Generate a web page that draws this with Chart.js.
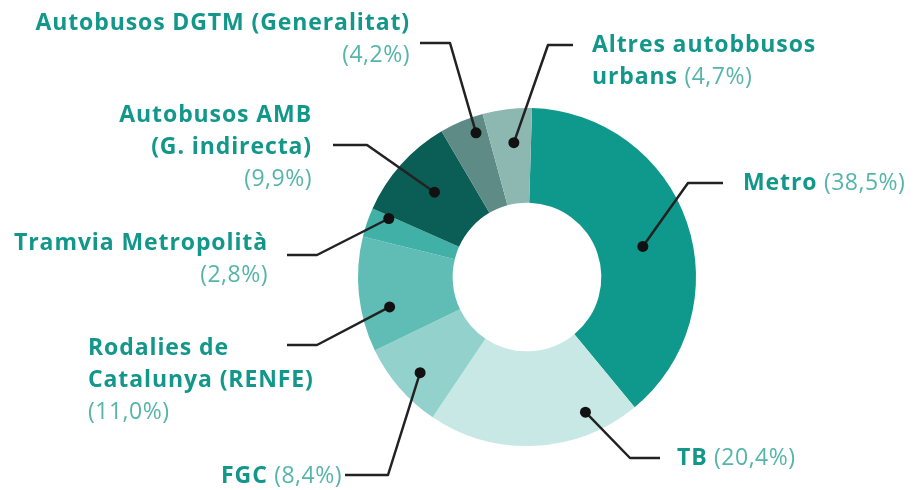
<!DOCTYPE html>
<html>
<head>
<meta charset="utf-8">
<script src="https://cdn.jsdelivr.net/npm/chart.js@4.4.1/dist/chart.umd.min.js"></script>
<style>
  html, body { margin: 0; padding: 0; background: #fff; }
  #wrap { width: 916px; height: 490px; }
</style>
</head>
<body>
<div id="wrap"><canvas id="chart" width="916" height="490"></canvas></div>
<script>
// dades: quota per mode de transport (%)
const categories = [
  'Metro', 'TB', 'FGC', 'Rodalies de Catalunya (RENFE)', 'Tramvia Metropolità',
  'Autobusos AMB (G. indirecta)', 'Autobusos DGTM (Generalitat)', 'Altres autobbusos urbans'
];
const shares = [38.5, 20.4, 8.4, 11.0, 2.8, 9.9, 4.2, 4.7];
const sliceColors = ['#0f998c', '#c8e8e5', '#93d2cc', '#60bdb5', '#41b0a6', '#0b5e55', '#5e8b85', '#8db8b2'];

// posició de les etiquetes (disseny, no dades)
// t = posició del punt dins l'arc (0..1), rf = posició radial (0 interior, 1 exterior)
const callouts = [
  { t: 0.53, rf: 0.48, elbow: [688, 183], end: [723, 183], x: 743, y: 183, align: 'left',  lines: ['Metro'], pct: 'inline' },
  { t: 0.22, rf: 0.77, elbow: [630, 458], end: [660, 458], x: 677, y: 458, align: 'left',  lines: ['TB'], pct: 'inline' },
  { t: 0.47, rf: 0.73, elbow: [388, 475], end: [345, 475], x: 342, y: 476, align: 'right', lines: ['FGC'], pct: 'inline' },
  { t: 0.34, rf: 0.70, elbow: [317, 345], end: [287, 345], x: 88,  y: 348, align: 'left',  lines: ['Rodalies de', 'Catalunya (RENFE)'], pct: 'below' },
  { t: 0.90, rf: 0.80, elbow: [317, 255], end: [287, 255], x: 268, y: 243, align: 'right', lines: ['Tramvia Metropolità'], pct: 'below' },
  { t: 0.52, rf: 0.54, elbow: [367, 145], end: [333, 145], x: 312, y: 115, align: 'right', lines: ['Autobusos AMB', '(G. indirecta)'], pct: 'below' },
  { t: 0.72, rf: 0.83, elbow: [450, 43],  end: [420, 43],  x: 410, y: 23,  align: 'right', lines: ['Autobusos DGTM (Generalitat)'], pct: 'below' },
  { t: 0.57, rf: 0.64, elbow: [548, 45],  end: [573, 45],  x: 592, y: 45,  align: 'left',  lines: ['Altres autobbusos', 'urbans'], pct: 'inline' },
];

const BOLD = '700 23px "Open Sans", Lato, sans-serif';
const REG = '400 23px "Open Sans", Lato, sans-serif';
const NAME_COLOR = '#13978b';
const PCT_COLOR = '#55b5aa';
const LINE_H = 32;

function fmtPct(v) {
  return '(' + v.toFixed(1).replace('.', ',') + '%)';
}

function drawSegments(ctx, segs, x, y, align) {
  let total = 0;
  segs.forEach(s => {
    ctx.font = s.bold ? BOLD : REG;
    ctx.letterSpacing = s.bold ? '0.9px' : '0.5px';
    s.w = ctx.measureText(s.t).width;
    total += s.w;
  });
  let cx = align === 'right' ? x - total : x;
  segs.forEach(s => {
    ctx.font = s.bold ? BOLD : REG;
    ctx.letterSpacing = s.bold ? '0.9px' : '0.5px';
    ctx.fillStyle = s.bold ? NAME_COLOR : PCT_COLOR;
    ctx.fillText(s.t, cx, y);
    cx += s.w;
  });
}

const calloutPlugin = {
  id: 'callouts',
  afterDatasetsDraw(chart) {
    const ctx = chart.ctx;
    const meta = chart.getDatasetMeta(0);
    ctx.save();
    meta.data.forEach((arc, i) => {
      const c = callouts[i];
      const p = arc.getProps(['x', 'y', 'startAngle', 'endAngle', 'innerRadius', 'outerRadius'], true);
      const a = p.startAngle + c.t * (p.endAngle - p.startAngle);
      const r = p.innerRadius + c.rf * (p.outerRadius - p.innerRadius);
      const dx = p.x + r * Math.cos(a);
      const dy = p.y + r * Math.sin(a);

      ctx.strokeStyle = '#222';
      ctx.lineWidth = 2.5;
      ctx.lineJoin = 'round';
      ctx.beginPath();
      ctx.moveTo(dx, dy);
      ctx.lineTo(c.elbow[0], c.elbow[1]);
      ctx.lineTo(c.end[0], c.end[1]);
      ctx.stroke();
      ctx.fillStyle = '#111';
      ctx.beginPath();
      ctx.arc(dx, dy, 5.5, 0, Math.PI * 2);
      ctx.fill();

      ctx.textBaseline = 'middle';
      const pct = fmtPct(shares[i]);
      c.lines.forEach((ln, k) => {
        const segs = [{ t: ln, bold: true }];
        if (c.pct === 'inline' && k === c.lines.length - 1) segs.push({ t: ' ' + pct, bold: false });
        drawSegments(ctx, segs, c.x, c.y + k * LINE_H, c.align);
      });
      if (c.pct === 'below') {
        drawSegments(ctx, [{ t: pct, bold: false }], c.x, c.y + c.lines.length * LINE_H, c.align);
      }
    });
    ctx.restore();
  }
};

new Chart(document.getElementById('chart'), {
  type: 'doughnut',
  data: {
    labels: categories,
    datasets: [{
      data: shares,
      backgroundColor: sliceColors,
      borderWidth: 0,
    }],
  },
  options: {
    responsive: false,
    animation: false,
    devicePixelRatio: 1,
    cutout: '44%',
    rotation: 1.7,
    layout: { padding: { left: 358, right: 220, top: 108, bottom: 44 } },
    plugins: {
      legend: { display: false },
      tooltip: { enabled: false },
    },
  },
  plugins: [calloutPlugin],
});
</script>
</body>
</html>
